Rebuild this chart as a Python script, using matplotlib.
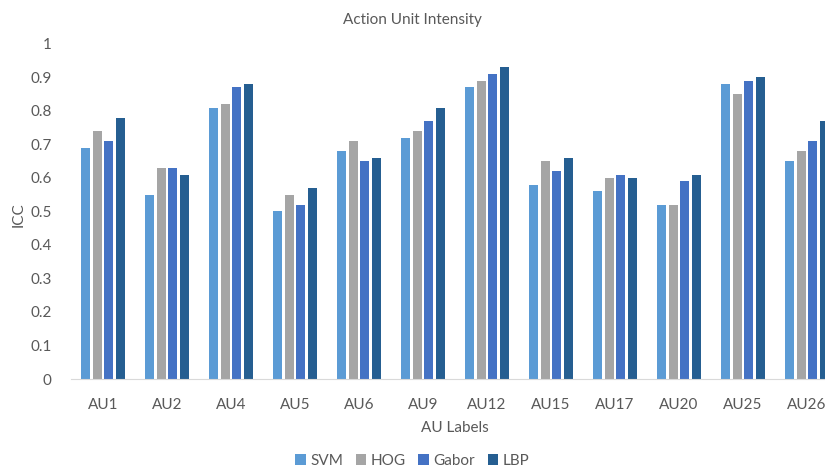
import numpy as np
import matplotlib
matplotlib.use("Agg")
from matplotlib import pyplot as plt

labels = ["AU1", "AU2", "AU4", "AU5", "AU6", "AU9", "AU12", "AU15", "AU17", "AU20", "AU25", "AU26"]
svm   = [0.69, 0.55, 0.81, 0.50, 0.68, 0.72, 0.87, 0.58, 0.56, 0.52, 0.88, 0.65]
hog   = [0.74, 0.63, 0.82, 0.55, 0.71, 0.74, 0.89, 0.65, 0.60, 0.52, 0.85, 0.68]
gabor = [0.71, 0.63, 0.87, 0.52, 0.65, 0.77, 0.91, 0.62, 0.61, 0.59, 0.89, 0.71]
lbp   = [0.78, 0.61, 0.88, 0.57, 0.66, 0.81, 0.93, 0.66, 0.60, 0.61, 0.90, 0.77]

series = [("SVM", svm, "#5B9BD5"), ("HOG", hog, "#A5A5A5"),
          ("Gabor", gabor, "#4472C4"), ("LBP", lbp, "#255E91")]

plt.rcParams['font.family'] = ['Lato', 'DejaVu Sans']

fig = plt.figure(figsize=(8.25, 4.72), dpi=100)
# chart is cut off on the right in the reference, so the axes run past the figure edge
ax = fig.add_axes([0.086, 0.197, 0.931, 0.710])

x = np.arange(len(labels))
slot = 0.18
for i, (name, vals, col) in enumerate(series):
    ax.bar(x + (i - 1.5) * slot, vals, width=0.145, color=col, label=name)

ax.set_xlim(-0.5, len(labels) - 0.5)
ax.set_ylim(0, 1)
ax.set_yticks(np.arange(0, 1.01, 0.1))
ax.set_yticklabels(["0"] + ["%.1f" % v for v in np.arange(0.1, 0.95, 0.1)] + ["1"])
ax.set_xticks(x)
ax.set_xticklabels(labels)
ax.tick_params(axis='both', length=0, labelsize=11, colors="#595959")
ax.tick_params(axis='y', pad=14)
ax.tick_params(axis='x', pad=14)

for s in ["top", "right", "left"]:
    ax.spines[s].set_visible(False)
ax.spines["bottom"].set_color("#D9D9D9")

ax.set_xlabel("AU Labels", fontsize=11, color="#595959", labelpad=6)
fig.text(0.022, 0.545, "ICC", rotation=90, ha="center", va="center", fontsize=11, color="#595959")
fig.text(0.5, 0.958, "Action Unit Intensity", ha="center", va="center", fontsize=11, color="#595959")

fig.legend(loc="center", bbox_to_anchor=(0.5, 0.023), ncol=4, frameon=False,
           fontsize=11, handlelength=0.7, handleheight=0.7, handletextpad=0.3,
           columnspacing=0.8, labelcolor="#595959")

fig.savefig("out.png", dpi=100)
